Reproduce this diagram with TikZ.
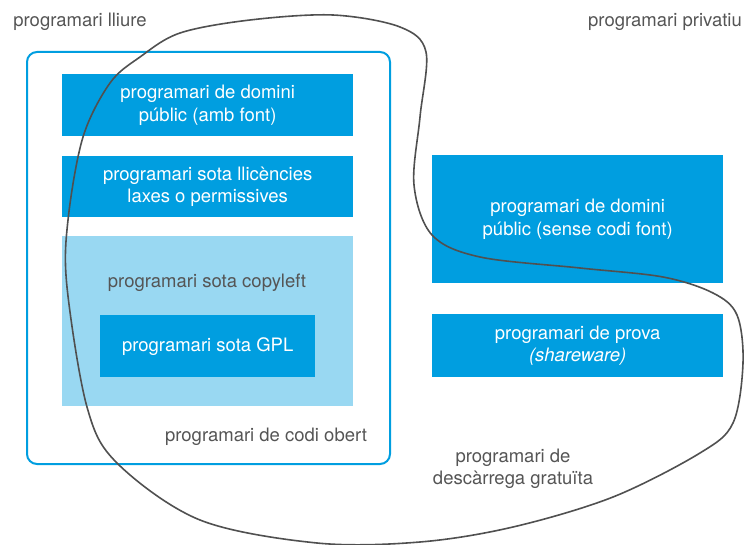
\documentclass[tikz,border=0pt]{standalone}
\usepackage{fontspec}
\setmainfont{TeX Gyre Heros}
\definecolor{boxblue}{RGB}{0,158,224}
\definecolor{paleblue}{RGB}{153,216,242}
\definecolor{labelgray}{RGB}{85,85,85}
\definecolor{linegray}{RGB}{80,80,80}
\begin{document}
\begin{tikzpicture}[x=1pt,y=-1pt,
  every node/.style={font=\fontsize{18.5}{22.5}\selectfont},
  solidbox/.style={fill=boxblue, text=white, align=center, inner sep=0pt, anchor=north west},
  palebox/.style={fill=paleblue, inner sep=0pt, anchor=north west},
  framebox/.style={draw=boxblue, line width=2pt, rounded corners=10pt, inner sep=0pt, anchor=north west},
  caption/.style={text=labelgray, align=center, inner sep=0pt},
  boundary/.style={draw=linegray, line width=1.6pt}]
\useasboundingbox (0,0) rectangle (747,545);

% open-source frame and its contents
\node[framebox, minimum width=363pt, minimum height=412pt] (obert) at (26,51) {};
\node[solidbox, minimum width=291pt, minimum height=62pt] (pubfont) at (62,74)
  {programari de domini\\públic (amb font)};
\node[solidbox, minimum width=291pt, minimum height=61pt] (laxes) at (62,156)
  {programari sota llicències\\laxes o permissives};
\node[palebox, minimum width=291pt, minimum height=170pt] (copyleft) at (62,236) {};
\node[solidbox, minimum width=215pt, minimum height=62pt] (gpl) at (100,315)
  {programari sota GPL};

% proprietary side
\node[solidbox, minimum width=291pt, minimum height=128pt] (pubsense) at (432,155)
  {programari de domini\\públic (sense codi font)};
\node[solidbox, minimum width=291pt, minimum height=63pt] (prova) at (432,314)
  {programari de prova\\\textit{(shareware)}};

% captions
\node[caption] (lliure) at (80,22) {programari lliure};
\node[caption] (privatiu) at (665,22) {programari privatiu};
\node[caption] (copyleftlbl) at (207,283) {programari sota copyleft};
\node[caption] (obertlbl) at (266,437) {programari de codi obert};
\node[caption] (gratuita) at (513,469) {programari de\\descàrrega gratuïta};

% free-download boundary
\draw[boundary] plot[smooth cycle, tension=0.55] coordinates {
  (333,15) (400,27) (426,52) (420,117) (414,185) (432,235) (480,257)
  (580,268) (663,277) (713,293) (737,315) (743,363) (733,423) (700,453)
  (613,497) (513,527) (420,542) (317,543) (200,520) (117,463) (87,407)
  (67,287) (68,220) (83,137) (110,83) (140,57) (180,33) (250,20)};
\end{tikzpicture}
\end{document}
